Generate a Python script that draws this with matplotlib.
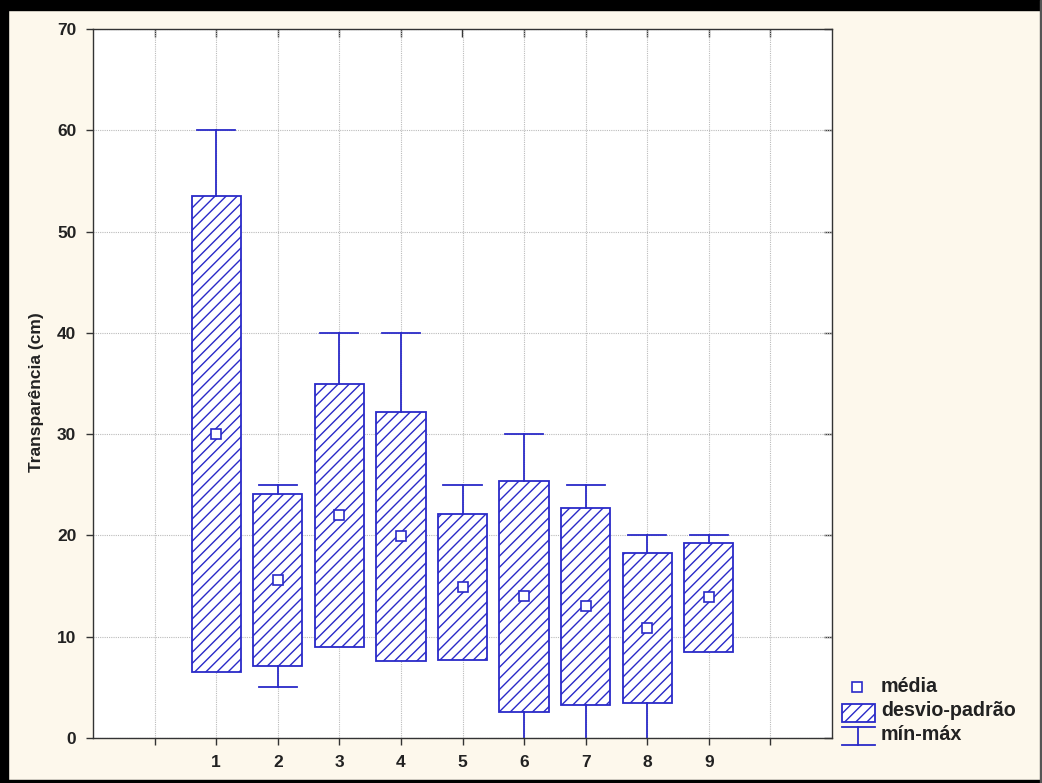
import matplotlib
matplotlib.use("Agg")
import matplotlib.pyplot as plt
from matplotlib.patches import Rectangle
from matplotlib.lines import Line2D
import numpy as np

plt.rcParams['font.family'] = ['Liberation Sans', 'DejaVu Sans']
plt.rcParams['hatch.color'] = '#2A2AC8'
plt.rcParams['hatch.linewidth'] = 1.0

# Data
groups = [1, 2, 3, 4, 5, 6, 7, 8, 9]
means = [30.0, 15.6, 22.0, 19.9, 14.9, 14.0, 13.0, 10.9, 13.9]
sds = [23.5, 8.5, 13.0, 12.3, 7.2, 11.4, 9.7, 7.4, 5.4]
maxs = [60, 25, 40, 40, 25, 30, 25, 20, 20]
mins = [10, 5, 10, 10, 10, 0, 0, 0, 10]
ylabel = "Transparência (cm)"
legend_labels = ["média", "desvio-padrão", "mín-máx"]

BLUE = '#2A2AC8'
BG = '#FDF8EC'

W, H = 1042, 783
fig = plt.figure(figsize=(W / 100, H / 100), dpi=100, facecolor=BG)

# frame
fig.patches.append(Rectangle((0, 1 - 10 / H), 1, 10 / H, transform=fig.transFigure, color='black', zorder=0))
fig.patches.append(Rectangle((0, 0), 8 / W, 1, transform=fig.transFigure, color='black', zorder=0))
fig.patches.append(Rectangle((0, 0), 1, 3 / H, transform=fig.transFigure, color='black', zorder=0))
fig.patches.append(Rectangle((1 - 2 / W, 0), 2 / W, 1, transform=fig.transFigure, color='#555555', zorder=0))

ax = fig.add_axes([93 / W, (H - 738) / H, (832 - 93) / W, (738 - 29) / H])
ax.set_facecolor('white')
ax.set_xlim(-1, 11)
ax.set_ylim(0, 70)
ybot = ax.get_ylim()[0]

box_w = 0.8
cap_w = 0.62
for x, m, s, mx, mn in zip(groups, means, sds, maxs, mins):
    lo, hi = m - s, m + s
    ax.add_patch(Rectangle((x - box_w / 2, lo), box_w, hi - lo, facecolor='white',
                           edgecolor=BLUE, hatch='///', lw=1.3, zorder=3))
    if mx > hi:
        ax.plot([x, x], [hi, mx], color=BLUE, lw=1.3, zorder=3)
        ax.plot([x - cap_w / 2, x + cap_w / 2], [mx, mx], color=BLUE, lw=1.3, zorder=3)
    if mn < lo:
        ax.plot([x, x], [mn, lo], color=BLUE, lw=1.3, zorder=3)
        if mn > ybot:
            ax.plot([x - cap_w / 2, x + cap_w / 2], [mn, mn], color=BLUE, lw=1.3, zorder=3)
    ax.plot([x], [m], marker='s', ms=6.5, mfc='white', mec=BLUE, mew=1.2, zorder=4, clip_on=False)

ax.set_xticks(range(0, 11))
ax.set_xticklabels([str(g) if g in groups else '' for g in range(0, 11)])
ax.set_yticks(range(0, 71, 10))
ax.grid(True, color='#BBBBBB', linestyle=(0, (1, 1)), linewidth=0.8, zorder=0)
ax.set_axisbelow(True)
for sp in ax.spines.values():
    sp.set_color('#333333')
    sp.set_linewidth(1.0)
    sp.set_zorder(6)
ax.tick_params(axis='both', direction='out', length=5, width=1, color='#333333',
               labelsize=12.5, pad=7)
for lab in ax.get_xticklabels() + ax.get_yticklabels():
    lab.set_fontweight('bold')
    lab.set_color('#222222')

# inward ticks on top / right
secx = ax.secondary_xaxis('top')
secx.set_xticks(range(0, 11))
secx.tick_params(direction='in', length=6, width=1, color='#333333', labeltop=False)
secx.spines['top'].set_visible(False)
secy = ax.secondary_yaxis('right')
secy.set_yticks(range(0, 71, 10))
secy.tick_params(direction='in', length=6, width=1, color='#333333', labelright=False)
secy.spines['right'].set_visible(False)

ax.set_ylabel(ylabel, fontsize=12.5, fontweight='bold', color='#222222')
ax.yaxis.set_label_coords(-0.066, 0.488)

# legend (manual)
def fx(px):
    return px / W
def fy(py):
    return 1 - py / H

fig.add_artist(Line2D([fx(857)], [fy(687)], marker='s', ms=6.5, mfc='white', mec=BLUE, mew=1.2,
                      transform=fig.transFigure))
fig.add_artist(Rectangle((fx(842), fy(722)), fx(875) - fx(842), fy(704) - fy(722),
                         facecolor='white', edgecolor=BLUE, hatch='///', lw=1.3, transform=fig.transFigure))
fig.add_artist(Line2D([fx(842), fx(875)], [fy(727), fy(727)], color=BLUE, lw=1.3, transform=fig.transFigure))
fig.add_artist(Line2D([fx(858), fx(858)], [fy(727), fy(745)], color=BLUE, lw=1.3, transform=fig.transFigure))
fig.add_artist(Line2D([fx(842), fx(875)], [fy(745), fy(745)], color=BLUE, lw=1.3, transform=fig.transFigure))
for lab, py in zip(legend_labels, [687, 711, 735]):
    fig.text(fx(881), fy(py), lab, fontsize=14.2, fontweight='bold', color='#222222',
             va='center', ha='left')

fig.savefig('out.png', dpi=100, facecolor=BG)
